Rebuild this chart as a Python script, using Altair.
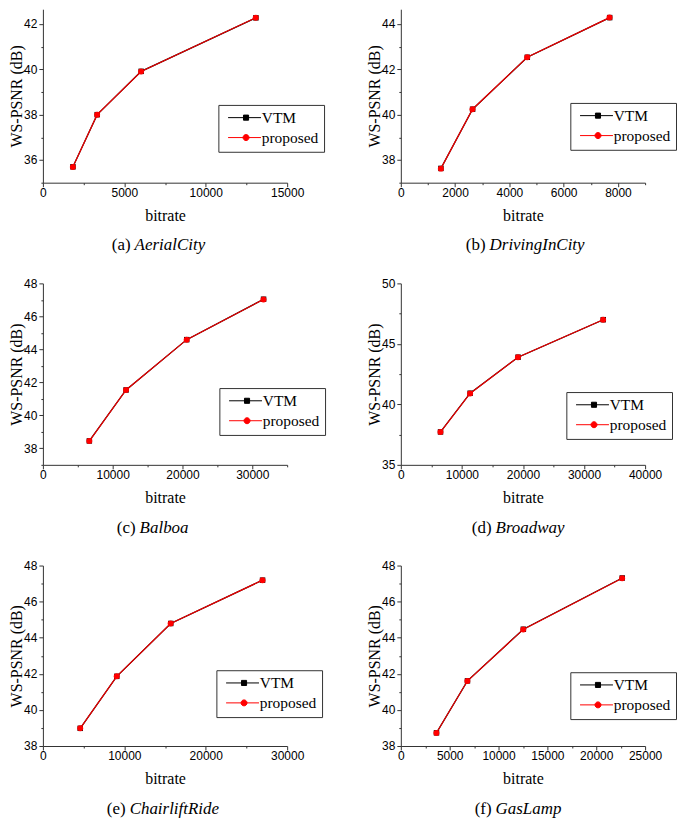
import altair as alt
import pandas as pd
import numpy as np

# ---------------- data ----------------
names = ["AerialCity", "DrivingInCity", "Balboa", "Broadway", "ChairliftRide", "GasLamp"]
letters = ["(a)", "(b)", "(c)", "(d)", "(e)", "(f)"]
series = ["VTM", "proposed"]

vtm_bitrate = [
    [1845, 3335, 6035, 13080],
    [1478, 2645, 4660, 7695],
    [6655, 11915, 20605, 31620],
    [6500, 11350, 19200, 33150],
    [4585, 9075, 15700, 26980],
    [3650, 6820, 12540, 22660],
]
vtm_psnr = [
    [35.70, 38.00, 39.91, 42.27],
    [37.63, 40.24, 42.53, 44.28],
    [38.45, 41.54, 44.59, 47.04],
    [37.72, 40.92, 43.90, 47.00],
    [38.98, 41.86, 44.79, 47.19],
    [38.73, 41.61, 44.47, 47.31],
]
prop_bitrate = [
    [1840, 3330, 6030, 13070],
    [1475, 2640, 4655, 7690],
    [6650, 11910, 20600, 31610],
    [6490, 11340, 19180, 33130],
    [4580, 9070, 15690, 26970],
    [3640, 6810, 12530, 22650],
]
prop_psnr = [
    [35.69, 38.00, 39.90, 42.27],
    [37.62, 40.24, 42.53, 44.28],
    [38.44, 41.54, 44.59, 47.03],
    [37.71, 40.90, 43.90, 46.99],
    [38.98, 41.86, 44.79, 47.19],
    [38.72, 41.60, 44.46, 47.30],
]

# ---------------- layout / styling ----------------
x_max = [15000, 9000, 35000, 40000, 30000, 25000]
x_major = [5000, 2000, 10000, 10000, 10000, 5000]
x_minor = [2500, 1000, 5000, 5000, 5000, 2500]
y_lo = [35, 37, 37, 35, 38, 38]
y_hi = [42.65, 44.65, 48, 50, 48, 48]
y_major = [2, 2, 2, 5, 2, 2]
y_minor = [1, 1, 1, 2.5, 1, 1]
heights = [174, 174, 182, 182, 181, 181]
W = 245
legend_xy = [(176, 96), (170, 94), (177, 105), (166, 109), (174, 105), (170, 107)]
caption_split = [92, 89, 97, 95, 87, 95]

SERIF = "Liberation Serif"
SANS = "Liberation Sans"
AX = "#333333"

sq_path = "M-1,0H10M4.15,-0.85H5.85V0.85H4.15Z"
ci_path = "M-1,0H10M6,0A1,1 0 1,1 4,0A1,1 0 1,1 6,0Z"


def panel(i):
    H = heights[i]
    d_v = pd.DataFrame({"bitrate": vtm_bitrate[i], "psnr": vtm_psnr[i], "series": "VTM"})
    d_p = pd.DataFrame({"bitrate": prop_bitrate[i], "psnr": prop_psnr[i], "series": "proposed"})
    d_all = pd.concat([d_v, d_p], ignore_index=True)

    xt = [float(v) for v in np.arange(0, x_max[i] + 1e-6, x_minor[i])]
    yt = [float(v) for v in np.arange(y_lo[i], y_hi[i] + 1e-6, y_minor[i])]

    xaxis = alt.Axis(
        values=xt, format="d", title="bitrate",
        labelExpr=f"datum.value % {x_major[i]} == 0 ? datum.label : ''",
        tickSize={"condition": {"test": f"datum.value % {x_major[i]} != 0", "value": 2}, "value": 4},
        grid=False, labelFlush=False, labelOverlap=False, labelPadding=1,
        titlePadding=9, labelFont=SANS, labelFontSize=12, labelColor="black",
        titleFont=SERIF, titleFontSize=16, titleFontWeight="normal", titleColor="black",
        domainColor=AX, tickColor=AX,
    )
    yaxis = alt.Axis(
        values=yt, format="d", title="WS-PSNR (dB)",
        labelExpr=f"datum.value % {y_major[i]} == 0 ? datum.label : ''",
        tickSize={"condition": {"test": f"datum.value % {y_major[i]} != 0", "value": 2}, "value": 4},
        grid=False, labelFlush=False, labelOverlap=False, labelPadding=2,
        titlePadding=-1, labelFont=SANS, labelFontSize=12, labelColor="black",
        titleFont=SERIF, titleFontSize=16, titleFontWeight="normal", titleColor="black",
        domainColor=AX, tickColor=AX,
    )
    X = alt.X("bitrate:Q", scale=alt.Scale(domain=[0, x_max[i]], nice=False, zero=False), axis=xaxis)
    Y = alt.Y("psnr:Q", scale=alt.Scale(domain=[y_lo[i], y_hi[i]], nice=False, zero=False), axis=yaxis)

    line_v = alt.Chart(d_v).mark_line(color="black", strokeWidth=1.2).encode(x=X, y=Y)
    pts_v = alt.Chart(d_v).mark_point(shape="square", filled=True, size=30, color="black", opacity=1).encode(x=X, y=Y)
    line_p = alt.Chart(d_p).mark_line(color="#ee0000", strokeWidth=1.2).encode(x=X, y=Y)
    pts_p = alt.Chart(d_p).mark_point(shape="circle", filled=True, size=36, color="#ff0000", opacity=1).encode(x=X, y=Y)

    lx, ly = legend_xy[i]
    leg = alt.Legend(
        title=None, orient="none", legendX=lx, legendY=ly,
        symbolSize=36, symbolStrokeWidth=1, symbolOpacity=1, labelOffset=23,
        labelFont=SERIF, labelFontSize=15.5, labelColor="black",
        strokeColor=AX, fillColor="white", padding=5, rowPadding=3,
    )
    col_scale = alt.Scale(domain=series, range=["black", "#ff0000"])
    legend_layer = alt.Chart(d_all).transform_filter("false").mark_point(filled=True, opacity=1).encode(
        fill=alt.Fill("series:N", scale=col_scale, legend=leg),
        stroke=alt.Stroke("series:N", scale=col_scale, legend=leg),
        shape=alt.Shape("series:N", scale=alt.Scale(domain=series, range=[sq_path, ci_path]), legend=leg),
    )

    cap = pd.DataFrame({"prefix": [letters[i]], "name": [names[i]]})
    sp = caption_split[i]
    cap_prefix = alt.Chart(cap).mark_text(
        align="right", baseline="middle", font=SERIF, fontSize=17, color="black"
    ).encode(text="prefix:N", x=alt.value(sp - 4), y=alt.value(H + 63))
    cap_name = alt.Chart(cap).mark_text(
        align="left", baseline="middle", font=SERIF, fontSize=17, fontStyle="italic", color="black"
    ).encode(text="name:N", x=alt.value(sp), y=alt.value(H + 63))

    return alt.layer(line_v, pts_v, line_p, pts_p, legend_layer, cap_prefix, cap_name).properties(
        width=W, height=H
    )


panels = [panel(i) for i in range(6)]

chart = alt.concat(*panels, columns=2).properties(
    spacing={"row": 101, "column": 114},
    bounds="flush",
    padding={"left": 0, "top": 0, "right": 0, "bottom": 0},
).resolve_scale(
    fill="independent", stroke="independent", shape="independent"
).resolve_legend(
    fill="independent", stroke="independent", shape="independent"
).configure_view(stroke=None).configure_axis(domainWidth=1, tickWidth=1)

chart.save("out.html", embed_options={"renderer": "svg", "actions": False})
